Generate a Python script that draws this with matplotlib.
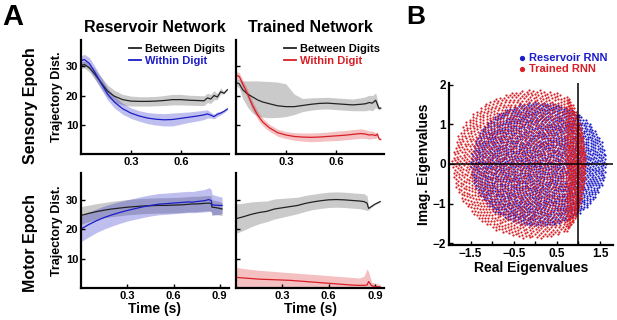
import numpy as np
import matplotlib
matplotlib.use('Agg')
import matplotlib.pyplot as plt

plt.rcParams['font.family'] = ['Liberation Sans', 'DejaVu Sans']
plt.rcParams['font.weight'] = 'bold'
plt.rcParams['axes.labelweight'] = 'bold'
plt.rcParams['axes.titleweight'] = 'bold'

# ---- panel A data (trajectory distance, mean and band edges) ----
# reservoir network, sensory epoch
t_res_sens = [0, 0.02, 0.05, 0.08, 0.12, 0.16, 0.20, 0.25, 0.30, 0.35, 0.40, 0.45, 0.50,
              0.55, 0.60, 0.65, 0.70, 0.74, 0.76, 0.78, 0.80, 0.82, 0.84, 0.86, 0.88]
res_sens_between = [30.3, 30.6, 29.5, 27.5, 24.5, 21.5, 19.8, 18.6, 18.1, 18.0, 18.0, 18.1, 18.3,
                    18.6, 18.6, 18.4, 18.3, 18.2, 19.2, 18.8, 20.0, 19.5, 21.3, 20.8, 22.0]
res_sens_between_lo = [29.3, 29.4, 28.1, 25.8, 22.5, 19.4, 17.8, 16.8, 16.4, 16.4, 16.4, 16.5, 16.6,
                       16.8, 16.8, 16.7, 16.6, 16.6, 17.6, 17.3, 18.5, 18.6, 20.6, 20.5, 21.7]
res_sens_between_hi = [31.3, 31.8, 30.9, 29.2, 26.5, 23.6, 21.8, 20.4, 19.8, 19.6, 19.6, 19.7, 20.0,
                       20.4, 20.4, 20.1, 20.0, 19.9, 20.8, 20.4, 21.7, 20.6, 22.6, 21.2, 22.3]
res_sens_within = [32.0, 32.3, 31.0, 28.3, 24.3, 20.5, 17.8, 15.5, 14.0, 13.0, 12.3, 11.9, 11.7,
                   11.8, 12.2, 12.6, 13.0, 13.4, 13.7, 13.3, 12.8, 13.6, 14.0, 14.6, 15.4]
res_sens_within_lo = [30.4, 30.5, 29.0, 26.3, 22.3, 18.5, 15.8, 13.6, 12.2, 11.2, 10.4, 9.9, 9.6,
                      9.6, 10.2, 10.8, 11.3, 11.8, 12.3, 12.3, 12.0, 12.8, 13.4, 14.1, 15.0]
res_sens_within_hi = [33.6, 34.1, 33.0, 30.3, 26.3, 22.5, 19.8, 17.4, 15.8, 14.8, 14.2, 13.9, 13.8,
                      14.0, 14.2, 14.4, 14.7, 15.0, 15.1, 14.3, 13.6, 14.4, 14.6, 15.1, 15.8]

# trained network, sensory epoch
t_tr_sens = [0, 0.02, 0.04, 0.07, 0.10, 0.13, 0.16, 0.20, 0.25, 0.30, 0.35, 0.40, 0.45,
             0.50, 0.55, 0.60, 0.65, 0.70, 0.75, 0.78, 0.80, 0.82, 0.84, 0.85, 0.86, 0.87]
tr_sens_between = [24.5, 24.0, 22.0, 20.5, 19.5, 18.5, 17.8, 17.2, 16.5, 16.2, 16.2, 16.6, 17.0,
                   17.3, 17.4, 17.2, 17.0, 16.8, 17.0, 17.2, 17.6, 17.4, 18.4, 17.0, 15.6, 15.7]
tr_sens_between_lo = [23.5, 22.5, 19.0, 16.0, 14.0, 13.0, 12.6, 12.4, 12.5, 12.8, 13.5, 14.5, 15.0,
                      15.3, 15.4, 15.2, 15.0, 14.8, 14.8, 14.8, 15.1, 14.8, 15.9, 15.5, 15.1, 15.2]
tr_sens_between_hi = [25.5, 25.5, 25.0, 25.0, 25.0, 25.0, 24.9, 24.8, 24.6, 24.0, 20.5, 19.0, 19.2,
                      19.3, 19.4, 19.2, 19.0, 18.8, 19.2, 19.6, 20.1, 20.0, 20.9, 18.5, 16.1, 16.2]
tr_sens_within = [27.0, 26.5, 24.0, 20.5, 16.5, 13.3, 11.0, 9.0, 7.3, 6.5, 6.0, 5.8, 5.7,
                  5.8, 6.0, 6.2, 6.4, 6.7, 7.0, 6.8, 6.5, 6.6, 6.3, 6.8, 5.2, 5.0]
tr_sens_within_lo = [25.8, 25.2, 22.6, 19.0, 15.0, 11.9, 9.7, 7.8, 6.1, 5.3, 4.7, 4.4, 4.2,
                     4.3, 4.5, 4.6, 4.8, 5.1, 5.4, 5.3, 5.1, 5.3, 5.3, 6.0, 4.8, 4.7]
tr_sens_within_hi = [28.2, 27.8, 25.4, 22.0, 18.0, 14.7, 12.3, 10.2, 8.5, 7.7, 7.3, 7.2, 7.2,
                     7.3, 7.5, 7.8, 8.0, 8.3, 8.6, 8.3, 7.9, 7.9, 7.3, 7.6, 5.6, 5.3]

# reservoir network, motor epoch
t_res_mot = [0, 0.05, 0.10, 0.15, 0.20, 0.25, 0.30, 0.35, 0.40, 0.45, 0.50, 0.55, 0.60,
             0.65, 0.70, 0.72, 0.75, 0.80, 0.83, 0.845, 0.85, 0.87, 0.90, 0.915]
res_mot_between = [24.6, 25.3, 25.9, 26.4, 26.8, 27.1, 27.4, 27.6, 27.8, 27.9, 28.0, 28.0, 28.1,
                   28.2, 28.4, 28.5, 28.5, 28.7, 28.8, 28.6, 27.4, 27.3, 27.0, 26.8]
res_mot_between_lo = [21.6, 22.5, 23.2, 23.8, 24.2, 24.5, 24.8, 25.0, 25.2, 25.3, 25.4, 25.4, 25.5,
                      25.6, 25.8, 25.9, 25.9, 26.1, 26.2, 26.0, 24.9, 24.9, 24.7, 24.6]
res_mot_between_hi = [27.6, 28.1, 28.6, 29.0, 29.4, 29.7, 30.0, 30.2, 30.4, 30.5, 30.6, 30.6, 30.7,
                      30.8, 31.0, 31.1, 31.1, 31.3, 31.4, 31.2, 29.9, 29.7, 29.3, 29.0]
res_mot_within = [20.0, 21.5, 22.8, 23.9, 24.8, 25.6, 26.3, 26.9, 27.5, 28.0, 28.4, 28.6, 28.8,
                  29.0, 29.2, 29.1, 29.3, 29.6, 30.0, 29.6, 28.2, 28.1, 28.0, 28.0]
res_mot_within_lo = [15.7, 17.3, 18.8, 20.0, 21.0, 21.9, 22.7, 23.3, 23.9, 24.4, 24.8, 25.0, 25.2,
                     25.4, 25.6, 25.5, 25.6, 25.8, 26.0, 25.8, 24.6, 24.8, 25.0, 25.2]
res_mot_within_hi = [24.3, 25.7, 26.8, 27.8, 28.6, 29.3, 29.9, 30.5, 31.1, 31.6, 32.0, 32.2, 32.4,
                     32.6, 32.8, 32.7, 33.0, 33.4, 34.0, 33.4, 31.8, 31.4, 31.0, 30.8]

# trained network, motor epoch
t_tr_mot = [0, 0.05, 0.10, 0.15, 0.20, 0.25, 0.30, 0.35, 0.40, 0.45, 0.50, 0.55, 0.60,
            0.65, 0.70, 0.75, 0.80, 0.83, 0.85, 0.86, 0.88, 0.90, 0.935]
tr_mot_between = [23.5, 24.2, 25.0, 25.6, 26.0, 26.8, 27.2, 27.6, 28.0, 28.7, 29.2, 29.6, 29.9,
                  30.0, 29.9, 29.7, 29.5, 29.3, 28.8, 27.0, 27.7, 28.4, 29.3]
tr_mot_between_lo = [18.5, 19.6, 20.8, 21.8, 22.5, 23.4, 24.0, 24.6, 25.2, 26.0, 26.6, 27.0, 27.3,
                     27.4, 27.3, 27.1, 26.9, 26.6, 26.3, 26.5, 27.4, 28.2, 29.1]
tr_mot_between_hi = [28.5, 28.8, 29.2, 29.4, 29.5, 30.2, 30.4, 30.6, 30.8, 31.4, 31.8, 32.2, 32.5,
                     32.6, 32.5, 32.3, 32.1, 32.0, 31.3, 27.5, 28.0, 28.6, 29.5]
tr_mot_within = [3.6, 3.4, 3.2, 3.0, 2.9, 2.8, 2.7, 2.6, 2.4, 2.2, 2.0, 1.8, 1.6,
                 1.4, 1.2, 1.0, 0.9, 0.9, 1.0, 2.2, 0.8, 0.5, 0.4]
tr_mot_within_lo = [0.3, 0.3, 0.3, 0.3, 0.2, 0.2, 0.2, 0.2, 0.2, 0.2, 0.2, 0.1, 0.1,
                    0.1, 0.1, 0.1, 0.1, 0.1, 0.1, 0.5, 0.1, 0.1, 0.1]
tr_mot_within_hi = [7.0, 6.6, 6.3, 6.0, 5.8, 5.6, 5.4, 5.2, 5.0, 4.8, 4.6, 4.4, 4.2,
                    4.0, 3.8, 3.6, 3.4, 4.0, 6.5, 5.5, 2.0, 1.6, 1.3]

# ---- panel B: eigenvalue clouds (shape) ----
res_eig_center = (0.07, 0.0)
res_eig_radius = 1.57
tr_eig_center = (-0.05, 0.0)
tr_eig_radius = 1.88
tr_eig_knee = 0.72       # trained eigenvalues pile up against Re = 1
tr_eig_squash = 0.4
n_eig = 2000

BLUE = '#1c1cc8'
RED = '#d91f26'
GREY = '#b4b4b4'


def eig_cloud(center, radius, n):
    # even sunflower layout filling a disc, stand-in for the eigenvalue scatter
    k = np.arange(n)
    r = radius * np.sqrt((k + 0.5) / n)
    th = k * np.pi * (3 - np.sqrt(5))
    return center[0] + r * np.cos(th), center[1] + r * np.sin(th)


def style_axis(ax):
    for side in ('top', 'right'):
        ax.spines[side].set_visible(False)
    for side in ('left', 'bottom'):
        ax.spines[side].set_linewidth(1.6)
    ax.tick_params(direction='in', length=3, width=1, labelsize=8, pad=2)


def draw_panel(ax, t, between, b_lo, b_hi, within, w_lo, w_hi, color, legend):
    ax.fill_between(t, b_lo, b_hi, color=GREY, alpha=0.7, lw=0)
    ax.fill_between(t, w_lo, w_hi, color=color, alpha=0.28, lw=0)
    ax.plot(t, between, color='#222222', lw=0.9, label='Between Digits')
    ax.plot(t, within, color=color, lw=0.9, label='Within Digit')
    ax.set_ylim(0, 39)
    ax.set_yticks([10, 20, 30])
    style_axis(ax)
    if legend:
        leg = ax.legend(loc='upper right', bbox_to_anchor=(1.02, 1.02), frameon=False,
                        fontsize=8, handlelength=1.1, handletextpad=0.35,
                        labelspacing=0.15, borderaxespad=0.2)
        leg.get_texts()[1].set_color(color)
        for line in leg.get_lines():
            line.set_linewidth(1.3)


fig = plt.figure(figsize=(6.17, 3.2), dpi=100)
W, H = 617.0, 320.0


def add_axes(x0, y0, x1, y1):
    return fig.add_axes([x0 / W, 1 - y1 / H, (x1 - x0) / W, (y1 - y0) / H])


ax_rs = add_axes(81, 40, 229, 154)
ax_ts = add_axes(236, 40, 384, 154)
ax_rm = add_axes(81, 173, 229, 288)
ax_tm = add_axes(236, 173, 384, 288)
ax_b = add_axes(449, 83, 613, 245)

draw_panel(ax_rs, t_res_sens, res_sens_between, res_sens_between_lo, res_sens_between_hi,
           res_sens_within, res_sens_within_lo, res_sens_within_hi, BLUE, True)
draw_panel(ax_ts, t_tr_sens, tr_sens_between, tr_sens_between_lo, tr_sens_between_hi,
           tr_sens_within, tr_sens_within_lo, tr_sens_within_hi, RED, True)
draw_panel(ax_rm, t_res_mot, res_mot_between, res_mot_between_lo, res_mot_between_hi,
           res_mot_within, res_mot_within_lo, res_mot_within_hi, BLUE, False)
draw_panel(ax_tm, t_tr_mot, tr_mot_between, tr_mot_between_lo, tr_mot_between_hi,
           tr_mot_within, tr_mot_within_lo, tr_mot_within_hi, RED, False)

for ax in (ax_rs, ax_ts):
    ax.set_xlim(0, 0.89)
    ax.set_xticks([0.3, 0.6])
for ax in (ax_rm, ax_tm):
    ax.set_xlim(0, 0.96)
    ax.set_xticks([0.3, 0.6, 0.9])
    ax.set_xlabel('Time (s)', fontsize=10, labelpad=1)
for ax in (ax_ts, ax_tm):
    ax.set_yticklabels([])
for ax in (ax_rs, ax_rm):
    ax.set_ylabel('Trajectory Dist.', fontsize=9, labelpad=2)

ax_rs.set_title('Reservoir Network', fontsize=11.5, pad=6)
ax_ts.set_title('Trained Network', fontsize=11.5, pad=6)
fig.text(30 / W, 1 - 106 / H, 'Sensory Epoch', rotation=90, fontsize=11.5,
         ha='center', va='center')
fig.text(30 / W, 1 - 243 / H, 'Motor Epoch', rotation=90, fontsize=11.5,
         ha='center', va='center')
fig.text(2 / W, 1 - 3 / H, 'A', fontsize=21, ha='left', va='top')
fig.text(406 / W, 1 - 5 / H, 'B', fontsize=19, ha='left', va='top')

# panel B
rx, ry = eig_cloud(res_eig_center, res_eig_radius, n_eig)
tx, ty = eig_cloud(tr_eig_center, tr_eig_radius, n_eig)
tx = np.where(tx > tr_eig_knee, tr_eig_knee + (tx - tr_eig_knee) * tr_eig_squash, tx)
ax_b.scatter(rx, ry, s=2.5, color=BLUE, lw=0, label='Reservoir RNN')
ax_b.scatter(tx, ty, s=2.5, color=RED, lw=0, label='Trained RNN')
ax_b.axhline(0, color='black', lw=1.1)
ax_b.axvline(1, color='black', lw=1.1)
ax_b.set_xlim(-2, 1.8)
ax_b.set_ylim(-2.05, 2.05)
ax_b.set_xticks([-1.5, -0.5, 0.5, 1.5])
ax_b.set_xticks([-1, 0, 1], minor=True)
ax_b.set_yticks([-2, -1, 0, 1, 2])
style_axis(ax_b)
ax_b.tick_params(which='minor', direction='in', length=3, width=1)
ax_b.tick_params(labelsize=8.5)
ax_b.set_xlabel('Real Eigenvalues', fontsize=10, labelpad=1)
ax_b.set_ylabel('Imag. Eigenvalues', fontsize=10, labelpad=1)
leg = ax_b.legend(loc='lower right', bbox_to_anchor=(1.0, 1.02), frameon=False, fontsize=8,
                  markerscale=2.4, handlelength=0.6, handletextpad=0.3, labelspacing=0.1,
                  borderaxespad=0.1)
leg.get_texts()[0].set_color(BLUE)
leg.get_texts()[1].set_color(RED)

fig.savefig('out.png', dpi=100)
plt.close(fig)
